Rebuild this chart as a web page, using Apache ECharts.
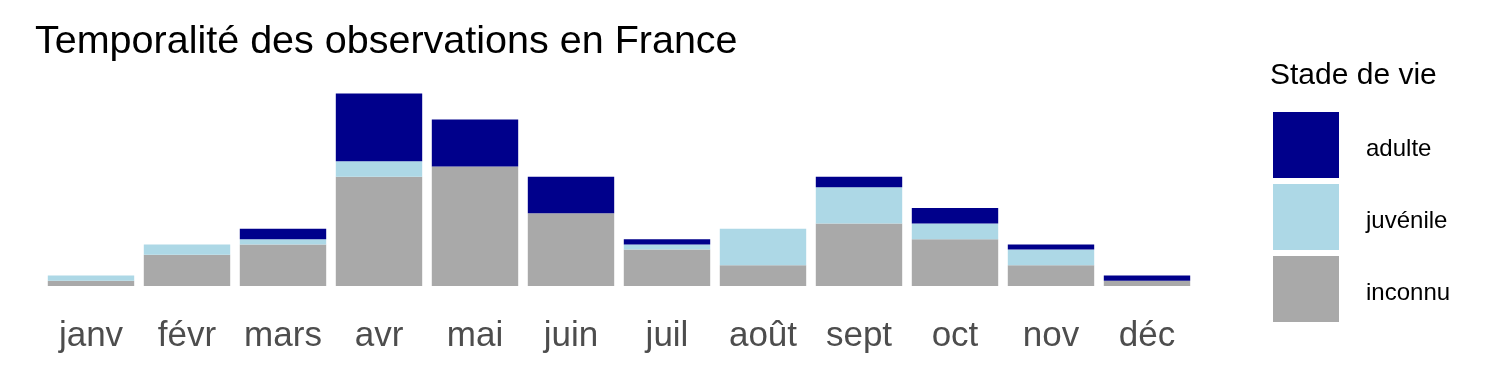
<!DOCTYPE html>
<html>
<head>
<meta charset="utf-8">
<script src="https://cdn.jsdelivr.net/npm/echarts@6/dist/echarts.min.js"></script>
<style>
html,body{margin:0;padding:0;background:#fff;}
#chart{width:1500px;height:375px;}
</style>
</head>
<body>
<div id="chart"></div>
<script>
const months = ['janv','févr','mars','avr','mai','juin','juil','août','sept','oct','nov','déc'];
const inconnu = [1,6,8,21,23,14,7,4,12,9,4,1];
const juvenile = [1,2,1,3,0,0,1,7,7,3,3,0];
const adulte = [0,0,2,13,9,7,1,0,2,3,1,1];
const seriesNames = ['inconnu','juvénile','adulte'];
const legendOrder = ['adulte','juvénile','inconnu'];
const colors = {'adulte':'#00008B','juvénile':'#ADD8E6','inconnu':'#A9A9A9'};

const font = '"Liberation Sans", Arial, sans-serif';
const chart = echarts.init(document.getElementById('chart'), null, {renderer:'canvas'});
const dataMap = {'inconnu':inconnu,'juvénile':juvenile,'adulte':adulte};
chart.setOption({
  animation:false,
  backgroundColor:'#ffffff',
  title:[
    {text:'Temporalité des observations en France', left:35, top:22, padding:0,
     textStyle:{fontFamily:font, fontSize:39.5, fontWeight:'normal', color:'#000'}},
    {text:'Stade de vie', left:1270, top:61, padding:0,
     textStyle:{fontFamily:font, fontSize:30, fontWeight:'normal', color:'#000'}}
  ],
  legend:{
    orient:'vertical', left:1273, top:112, padding:0,
    itemWidth:66, itemHeight:66, itemGap:6,
    icon:'rect',
    data:legendOrder,
    formatter: n => '{a|' + n + '}',
    textStyle:{fontFamily:font, fontSize:24, color:'#000', padding:[0,0,0,22],
      rich:{a:{fontFamily:font, fontSize:24, color:'#000', padding:[8,0,0,0]}}},
    inactiveColor:'#ccc'
  },
  grid:{left:43, width:1152, top:78, bottom:89, containLabel:false},
  xAxis:{
    type:'category', data:months,
    axisLine:{show:false}, axisTick:{show:false}, splitLine:{show:false},
    axisLabel:{fontFamily:font, fontSize:35, color:'#4D4D4D', margin:33, interval:0}
  },
  yAxis:{type:'value', min:0, max:40, show:false, splitLine:{show:false}},
  series: seriesNames.map(n => ({
    name:n, type:'bar', stack:'total', barWidth:'90%',
    itemStyle:{color:colors[n]},
    data:dataMap[n]
  }))
});
</script>
</body>
</html>
